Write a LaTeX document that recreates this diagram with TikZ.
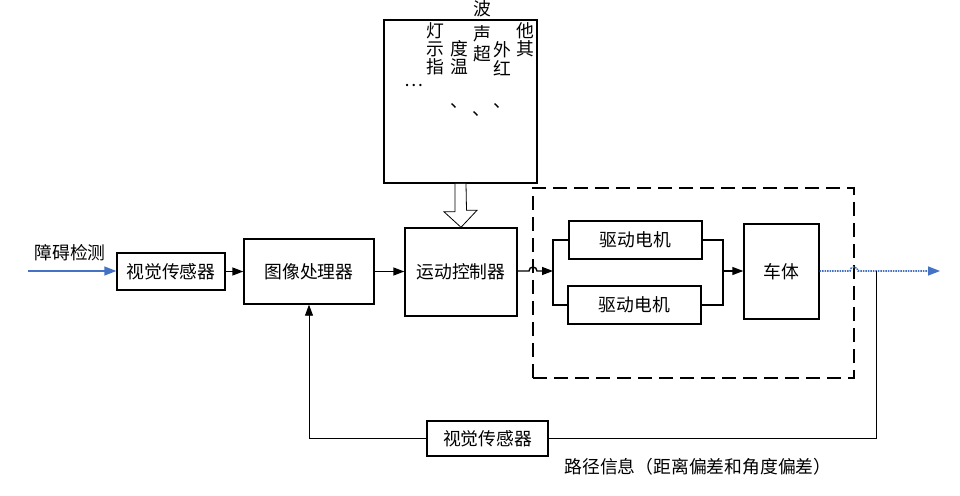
\documentclass[tikz,border=0pt]{standalone}
\usepackage{fontspec}
\setmainfont{Noto Sans CJK SC}
\usetikzlibrary{arrows.meta,calc}
\definecolor{flowblue}{RGB}{68,114,196}
\begin{document}
\begin{tikzpicture}[x=1pt,y=-1pt,
  txt/.style={font=\fontsize{17.8}{19}\selectfont, inner sep=0pt},
  box/.style={txt, draw, line width=1.4pt, inner sep=0pt},
  conn/.style={line width=1.4pt},
  thinconn/.style={line width=0.9pt},
  arr/.style={conn, -{Triangle[length=11pt,width=8pt]}},
  bluearr/.style={flowblue, line width=1.4pt, -{Triangle[length=12pt,width=9pt]}},
  hollow/.style={line width=0.8pt, fill=white},
  group/.style={draw, line width=2.6pt, dash pattern=on 14pt off 7pt, inner sep=0pt},
  vch/.style={txt},
]
\clip (0,0) rectangle (960,495);

% boxes
\node[box, minimum width=108, minimum height=37] (s1) at (171,271.5) {视觉传感器};
\node[box, minimum width=130, minimum height=65] (ip) at (309,271.5) {图像处理器};
\node[box, minimum width=112, minimum height=88] (mc) at (461,272) {运动控制器};
\node[draw, line width=1.6pt, minimum width=153, minimum height=163, inner sep=0pt] (tb) at (460.5,101.5) {};
\node[group, minimum width=321, minimum height=190] (grp) at (693.5,283) {};
\node[box, minimum width=133, minimum height=38] (m1) at (635.5,240) {驱动电机};
\node[box, minimum width=133, minimum height=38] (m2) at (634.5,305) {驱动电机};
\node[box, minimum width=75, minimum height=95] (cb) at (781.5,271.5) {车体};
\node[box, minimum width=121, minimum height=35] (s2) at (487.5,438.5) {视觉传感器};

% labels
\node[txt] (lobs) at (70,253) {障碍检测};
\node[txt] (lpath) at (698,467) {路径信息（距离偏差和角度偏差）};

% text inside the top box
\node[vch] (c11) at (435,31) {灯};
\node[vch] (c12) at (435,49) {示};
\node[vch] (c13) at (435,67) {指};
\node[vch] (c21) at (459,49) {度};
\node[vch] (c22) at (459,67) {温};
\node[vch] (c31) at (482,9) {波};
\node[vch] (c32) at (482,34) {声};
\node[vch] (c33) at (482,54) {超};
\node[vch] (c41) at (502,50) {外};
\node[vch] (c42) at (502,68) {红};
\node[vch] (c51) at (525,31) {他};
\node[vch] (c52) at (525,49) {其};
\node[txt] (dots) at (414,85) {…};
\node[vch] (p1) at (459,106) {、};
\node[vch] (p2) at (481,114) {、};
\node[vch] (p3) at (502,106) {、};

% coordinates
\coordinate (in) at (28,271);
\coordinate (sp) at (553,271);
\coordinate (jn) at (723,271);
\coordinate (fb) at (876,271);
\coordinate (out) at (940,271);

% connectors
\draw[bluearr] (in) -- (s1.west |- in);
\draw[arr] (s1.east) -- (ip.west |- s1.east);
\draw[arr] (ip.east) -- (mc.west |- ip.east);
\draw[arr] (mc.east |- sp) -- (529,271) arc[start angle=180, end angle=360, radius=4] -- (sp);
\draw[conn] (m1.west) -| (sp) |- (m2.west);
\draw[conn] (m1.east) -| (jn) |- (m2.east);
\draw[arr] (jn) -- (cb.west |- jn);
\draw[flowblue, line width=1.6pt, dash pattern=on 1.5pt off 1pt] (cb.east |- out) -- (850,271) arc[start angle=180, end angle=360, radius=4] -- (935,271);
\draw[bluearr] (928,271) -- (out);
\draw[thinconn] (fb) -- (fb |- s2.east);
\draw[conn] (fb |- s2.east) -- (s2.east);
\draw[conn] (s2.west) -- (ip.south |- s2.west);
\draw[thinconn, -{Triangle[length=11pt,width=8pt]}] (ip.south |- s2.west) -- (ip.south);

% hollow arrow from top box to controller
\draw[hollow] ([xshift=-5.5pt]tb.south) -- ++(0,28) -- ++(-11,0) -- (mc.north) -- ++(16,-17) -- ++(-10.5,0) -- ([xshift=5.5pt]tb.south);
\end{tikzpicture}
\end{document}
